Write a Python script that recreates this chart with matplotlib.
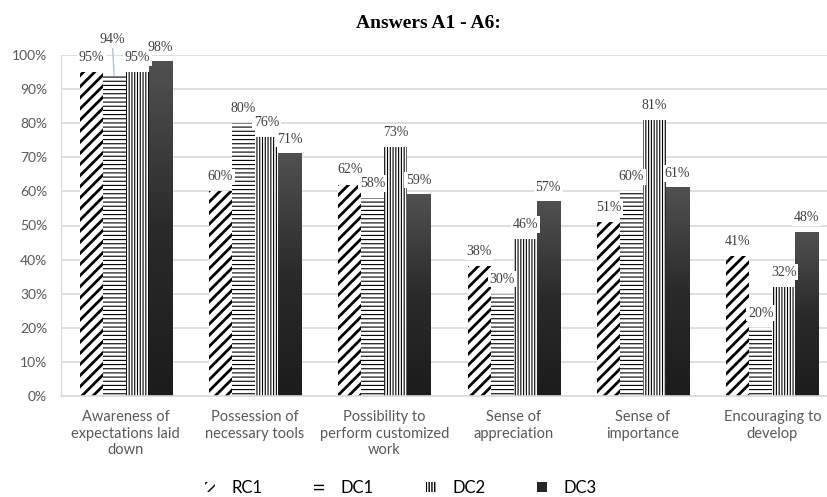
import numpy as np
import matplotlib
matplotlib.use("Agg")
import matplotlib.pyplot as plt
from matplotlib.colors import LinearSegmentedColormap
from matplotlib.patches import Patch

# ── data ───────────────────────────────────────────────────────────────────
categories = [
    "Awareness of\nexpectations laid\ndown",
    "Possession of\nnecessary tools",
    "Possibility to\nperform customized\nwork",
    "Sense of\nappreciation",
    "Sense of\nimportance",
    "Encouraging to\ndevelop",
]
series_names = ["RC1", "DC1", "DC2", "DC3"]
rc1 = [95, 60, 62, 38, 51, 41]
dc1 = [94, 80, 58, 30, 60, 20]
dc2 = [95, 76, 73, 46, 81, 32]
dc3 = [98, 71, 59, 57, 61, 48]
values = [rc1, dc1, dc2, dc3]

# ── styles ─────────────────────────────────────────────────────────────────
hatches = ["///", "----", "||||||", None]
hatch_lw = [2.0, 0.8, 0.8, 0.8]
GRID = "#d9d9d9"
TXT = "#595959"
LABEL_DY = 10.5                         # points above bar top
special_offsets = {(1, 0): (-1.5, 26)}  # (series, category) -> (dx, dy) pts
shade = LinearSegmentedColormap.from_list("shade", ["#1c1c1c", "#2a2a2a", "#505050"])

fig = plt.figure(figsize=(8.27, 4.97), dpi=100)
ax = fig.add_axes([61 / 827, 1 - 396 / 497, 1 - 61 / 827, (396 - 55) / 497])

x = np.arange(len(categories))
w = 0.178

for i, (name, vals) in enumerate(zip(series_names, values)):
    xs = x + (i - 1.5) * w
    v = np.array(vals) / 100
    if hatches[i] is not None:
        bars = ax.bar(xs, v, w, color="white", edgecolor="black",
                      linewidth=0, hatch=hatches[i], zorder=2)
        for p in bars:
            if hasattr(p, "set_hatch_linewidth"):
                p.set_hatch_linewidth(hatch_lw[i])
    else:
        ax.bar(xs, v, w, color="#2b2b2b", linewidth=0, zorder=2)
        # vertical shading, lighter at the top
        grad = np.linspace(0, 1, 64).reshape(-1, 1)
        for xc, h in zip(xs, v):
            ax.imshow(grad, extent=[xc - w / 2, xc + w / 2, 0, h], cmap=shade,
                      origin="lower", aspect="auto", zorder=2.5)

    for j, (xc, h) in enumerate(zip(xs, v)):
        dx, dy = special_offsets.get((i, j), (0, LABEL_DY))
        arrow = None
        if (i, j) in special_offsets:
            arrow = dict(arrowstyle="-", color="#b4c3d3", lw=1,
                         shrinkA=0, shrinkB=0)
        ax.annotate(f"{vals[j]}%", xy=(xc, h), xytext=(dx, dy),
                    textcoords="offset points", ha="center", va="center",
                    fontsize=10, family="Liberation Serif", color="#404040",
                    bbox=dict(facecolor="white", edgecolor="none", pad=1.2),
                    arrowprops=arrow, zorder=4)

ax.set_xlim(-0.5, 5.5 - 10 / 129.3)
ax.set_ylim(0, 1)
ticks = np.arange(0, 1.01, 0.1)
ax.set_yticks(ticks)
ax.set_yticklabels([f"{int(round(t * 100))}%" for t in ticks])
ax.set_xticks(x)
ax.set_xticklabels(categories, linespacing=1.25)
ax.tick_params(axis="y", length=0, pad=10, labelsize=10, labelcolor=TXT)
ax.tick_params(axis="x", length=0, pad=10, labelsize=10.5, labelcolor=TXT)
for lbl in ax.get_xticklabels() + ax.get_yticklabels():
    lbl.set_family("Lato")

ax.grid(axis="y", color=GRID, lw=1.2, zorder=0)
ax.set_axisbelow(True)
for s in ["top", "right"]:
    ax.spines[s].set_visible(False)
ax.spines["left"].set_color(GRID)
ax.spines["bottom"].set_color(GRID)
ax.spines["bottom"].set_linewidth(1.2)

fig.text(428 / 827, 1 - 23 / 497, "Answers A1 - A6:", ha="center",
         va="center", fontsize=14, fontweight="bold",
         family="Liberation Serif", color="black")

handles = []
for i, name in enumerate(series_names):
    if hatches[i] is not None:
        handles.append(Patch(facecolor="white", edgecolor="black", lw=0,
                             hatch=hatches[i], label=name))
    else:
        handles.append(Patch(facecolor="#262626", lw=0, label=name))
fig.legend(handles=handles, loc="center", bbox_to_anchor=(401 / 827, 1 - 488 / 497),
           ncol=4, frameon=False, handlelength=0.6, handleheight=0.6,
           columnspacing=3.1, handletextpad=1.0,
           prop={"family": "Lato", "size": 12})

fig.savefig("out.png", dpi=100)
